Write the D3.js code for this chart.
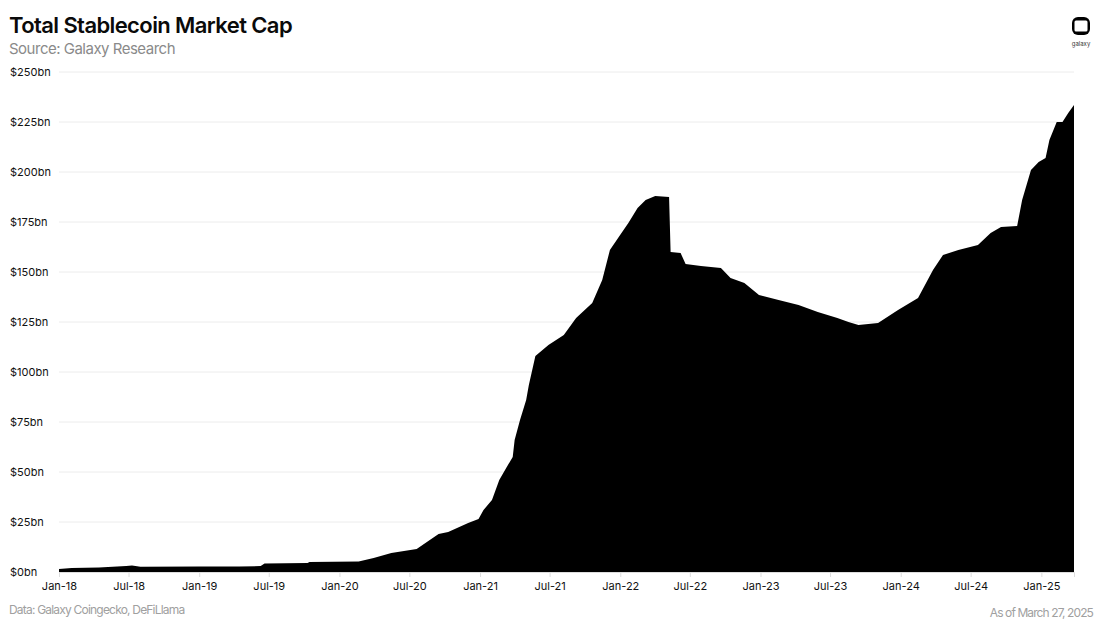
<!DOCTYPE html>
<html>
<head>
<meta charset="utf-8">
<script src="https://cdn.jsdelivr.net/npm/d3@7"></script>
<style>
  body { margin: 0; background: #fff; }
  text { font-family: Inter, "Noto Sans", sans-serif; }
</style>
</head>
<body>
<div id="chart"></div>
<script>
// Chart size
const width = 1095;
const height = 621;
const margin = {top: 72, right: 21, bottom: 49, left: 59};

// Data: date, market cap in $bn
const dates = ["2018-01-01","2018-02-03","2018-04-15","2018-06-25","2018-07-10","2018-08-01",
    "2019-01-01","2019-04-15","2019-06-10","2019-06-20","2019-10-10","2019-10-15",
    "2020-02-20","2020-03-30","2020-05-15","2020-07-20","2020-09-15","2020-10-10",
    "2020-12-01","2020-12-28","2021-01-10","2021-02-01","2021-02-20","2021-03-10",
    "2021-03-27","2021-04-01","2021-04-15","2021-05-01","2021-05-08","2021-05-25",
    "2021-06-28","2021-08-07","2021-09-08","2021-10-20","2021-11-15","2021-12-05",
    "2021-12-28","2022-01-22","2022-02-15","2022-03-08","2022-04-02","2022-05-08",
    "2022-05-12","2022-06-07","2022-06-20","2022-07-30","2022-09-20","2022-10-15",
    "2022-11-20","2022-12-28","2023-02-17","2023-04-10","2023-05-30","2023-07-20",
    "2023-08-18","2023-09-13","2023-11-03","2023-12-25","2024-02-15","2024-03-25",
    "2024-04-20","2024-05-30","2024-07-20","2024-08-22","2024-09-18","2024-10-30",
    "2024-11-12","2024-12-05","2024-12-25","2025-01-12","2025-01-22","2025-02-10",
    "2025-02-25","2025-03-12","2025-03-27"];
const marketCap = [1.5, 2.0, 2.3, 3.0, 3.3, 2.6,
    2.8, 2.7, 3.0, 4.3, 4.5, 5.0,
    5.2, 7.0, 9.5, 11.5, 19, 20,
    24.5, 26.5, 31, 36, 46, 52,
    57.5, 66, 76, 86, 93.5, 108,
    113.5, 118.5, 127, 134.5, 146, 161,
    167.5, 174.5, 182, 186, 188, 187.5,
    160, 159.5, 154, 153, 152, 147,
    144.5, 138.5, 136, 133.5, 130, 127,
    125, 123.5, 124.5, 131, 137, 151,
    158.5, 161, 163.5, 169.5, 172.5, 173,
    186, 201, 205, 207, 216, 225,
    225, 229.5, 233.5];

const yTicks = [0, 25, 50, 75, 100, 125, 150, 175, 200, 225, 250];
const xTicks = ["2018-01-01","2018-07-01","2019-01-01","2019-07-01","2020-01-01","2020-07-01",
    "2021-01-01","2021-07-01","2022-01-01","2022-07-01","2023-01-01","2023-07-01",
    "2024-01-01","2024-07-01","2025-01-01"];

const parse = d3.timeParse("%Y-%m-%d");
const data = dates.map((d, i) => ({date: parse(d), value: marketCap[i]}));

const svg = d3.select("#chart")
    .append("svg")
        .attr("width", width)
        .attr("height", height);

const x = d3.scaleTime()
    .domain([parse("2018-01-01"), parse("2025-03-27")])
    .range([margin.left, width - margin.right]);

const y = d3.scaleLinear()
    .domain([0, 250])
    .range([height - margin.bottom, margin.top]);

// Gridlines
svg.append("g")
    .selectAll("line")
    .data(yTicks)
    .join("line")
        .attr("x1", margin.left)
        .attr("x2", width - margin.right)
        .attr("y1", d => y(d))
        .attr("y2", d => y(d))
        .attr("stroke", "#ececec")
        .attr("stroke-width", 1);

// Y labels, left aligned
svg.append("g")
    .selectAll("text")
    .data(yTicks)
    .join("text")
        .attr("x", 10)
        .attr("y", d => y(d))
        .attr("dy", "0.35em")
        .style("font-size", "11px")
        .style("fill", "#111")
        .text(d => "$" + d + "bn");

// Area
const area = d3.area()
    .x(d => x(d.date))
    .y0(y(0))
    .y1(d => y(d.value));

svg.append("path")
    .datum(data)
    .attr("d", area)
    .attr("fill", "#000");

// X axis
const xAxis = svg.append("g")
    .attr("transform", `translate(0,${y(0)})`)
    .call(d3.axisBottom(x)
        .tickValues(xTicks.map(parse))
        .tickFormat(d3.timeFormat("%b-%y"))
        .tickSize(5)
        .tickPadding(5));
xAxis.select(".domain").attr("stroke", "#ddd");
xAxis.selectAll(".tick line").attr("stroke", "#ddd");
xAxis.selectAll(".tick text")
    .style("font-family", "Inter, 'Noto Sans', sans-serif")
    .style("font-size", "11px")
    .style("fill", "#111");

// Titles
svg.append("text")
    .attr("x", 9)
    .attr("y", 33)
    .style("font-size", "22px")
    .style("font-weight", 600)
    .style("letter-spacing", "-0.6px")
    .style("fill", "#0a0a0a")
    .text("Total Stablecoin Market Cap");

svg.append("text")
    .attr("x", 9)
    .attr("y", 54)
    .style("font-size", "15px")
    .style("letter-spacing", "-0.5px")
    .style("fill", "#8a8a8a")
    .text("Source: Galaxy Research");

// Footer
svg.append("text")
    .attr("x", 9)
    .attr("y", 614)
    .style("font-size", "12px")
    .style("letter-spacing", "-0.8px")
    .style("fill", "#a0a0a0")
    .text("Data: Galaxy Coingecko, DeFiLlama");

svg.append("text")
    .attr("x", 1093)
    .attr("y", 617)
    .attr("text-anchor", "end")
    .style("font-size", "12px")
    .style("letter-spacing", "-0.9px")
    .style("fill", "#a0a0a0")
    .text("As of March 27, 2025");

// Logo
const logo = svg.append("g").attr("transform", "translate(1081,26)");
logo.append("rect")
    .attr("x", -9).attr("y", -9).attr("width", 18).attr("height", 18)
    .attr("rx", 6)
    .attr("fill", "#000");
logo.append("rect")
    .attr("x", -6.5).attr("y", -5.5).attr("width", 13).attr("height", 11)
    .attr("rx", 1.5)
    .attr("fill", "#fff");
logo.append("text")
    .attr("x", 0)
    .attr("y", 20)
    .attr("text-anchor", "middle")
    .style("font-size", "6px")
    .style("fill", "#333")
    .text("galaxy");
</script>
</body>
</html>
